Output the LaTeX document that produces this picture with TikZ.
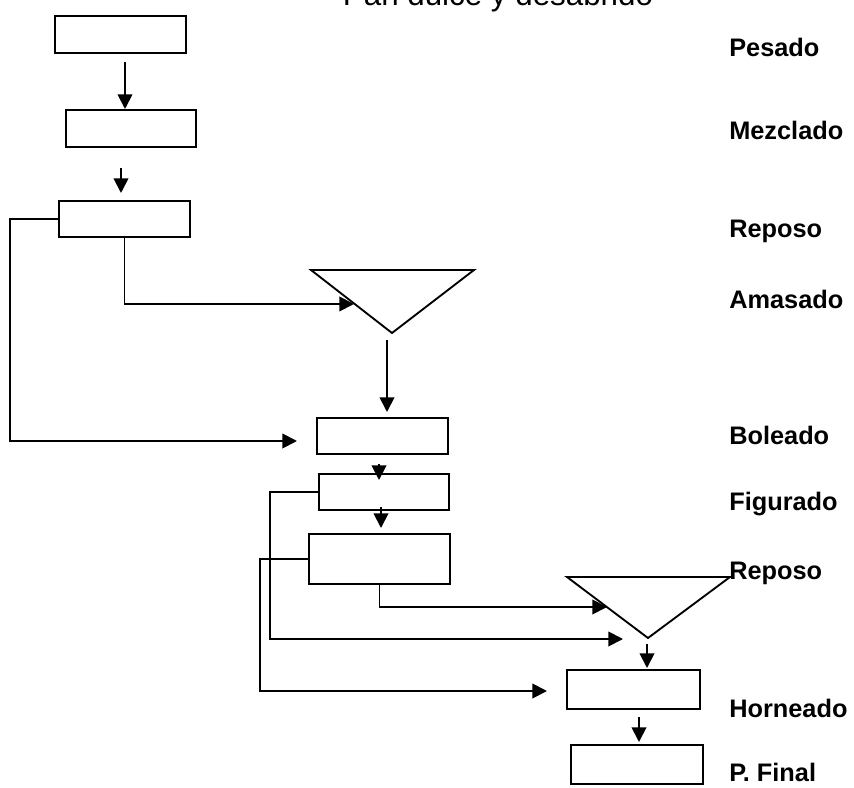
\documentclass[tikz,border=0pt]{standalone}
\usepackage{fontspec}
\setmainfont{Liberation Sans}
\usetikzlibrary{arrows.meta,calc}
\begin{document}
\begin{tikzpicture}[x=0.75pt,y=-0.75pt,
  box/.style={draw,rectangle,line width=1.4pt,inner sep=0pt},
  tri/.style={draw,line width=1.4pt,line join=miter},
  arr/.style={-{Triangle[length=11pt,width=11pt]},line width=1.4pt,line join=miter},
  lab/.style={anchor=base west,inner sep=0pt,font=\bfseries\fontsize{19}{23}\selectfont},
  ttl/.style={anchor=base,inner sep=0pt,font=\fontsize{23.5}{28}\selectfont}]
\useasboundingbox (0,0) rectangle (854,788);
% title
\node[ttl] (title) at (498,6) {Pan dulce y desabrido};
% boxes
\node[box,minimum width=98.25pt,minimum height=27.75pt] (b1) at (120.5,34.5) {};
\node[box,minimum width=97.5pt,minimum height=27.75pt] (b2) at (131,128.5) {};
\node[box,minimum width=98.25pt,minimum height=27pt] (b3) at (124.5,219) {};
\node[box,minimum width=98.25pt,minimum height=27pt] (b4) at (382.5,436) {};
\node[box,minimum width=97.5pt,minimum height=27pt] (b5) at (384,492) {};
\node[box,minimum width=105.75pt,minimum height=37.5pt] (b6) at (379.5,559) {};
\node[box,minimum width=99.75pt,minimum height=29.25pt] (b7) at (633.5,689.5) {};
\node[box,minimum width=99pt,minimum height=29.25pt] (b8) at (637,764.5) {};
% triangles
\coordinate (t1l) at (311,270);
\coordinate (t1r) at (474,270);
\coordinate (t1b) at (392,333);
\draw[tri] (t1l) -- (t1r) -- (t1b) -- cycle;
\coordinate (t2l) at (567,577);
\coordinate (t2r) at (730,577);
\coordinate (t2b) at (648,638);
\draw[tri] (t2l) -- (t2r) -- (t2b) -- cycle;
% vertical arrows
\coordinate (a1s) at (125,62);  \coordinate (a1e) at (125,109);
\coordinate (a2s) at (121,168); \coordinate (a2e) at (121,193);
\coordinate (a3s) at (387,340); \coordinate (a3e) at (387,412);
\coordinate (a4s) at (379,464); \coordinate (a4e) at (379,480);
\coordinate (a5s) at (381,507); \coordinate (a5e) at (381,528);
\coordinate (a6s) at (647,644); \coordinate (a6e) at (647,668);
\coordinate (a7s) at (639,717); \coordinate (a7e) at (639,742);
\draw[arr] (a1s) -- (a1e);
\draw[arr] (a2s) -- (a2e);
\draw[arr] (a3s) -- (a3e);
\draw[arr] (a4s) -- (a4e);
\draw[arr] (a5s) -- (a5e);
\draw[arr] (a6s) -- (a6e);
\draw[arr] (a7s) -- (a7e);
% elbow connectors
\coordinate (e1) at (354,304);
\coordinate (e2) at (297,441);
\coordinate (e3) at (623,639);
\coordinate (e4) at (547,691);
\coordinate (e5) at (607,607);
\draw[arr] (b3.south) |- (e1);
\draw[arr] (b3.west) -- ++(-48,0) |- (e2);
\draw[arr] (b5.west) -- ++(-48,0) |- (e3);
\draw[arr] (b6.west) -- ++(-48,0) |- (e4);
\draw[arr] (b6.south) |- (e5);
% labels
\node[lab] (l1) at (729,57) {Pesado};
\node[lab] (l2) at (729,140) {Mezclado};
\node[lab] (l3) at (729,238) {Reposo};
\node[lab] (l4) at (729,309) {Amasado};
\node[lab] (l5) at (729,444) {Boleado};
\node[lab] (l6) at (729,510) {Figurado};
\node[lab] (l7) at (729,579) {Reposo};
\node[lab] (l8) at (729,717) {Horneado};
\node[lab] (l9) at (729,781) {P. Final};
\end{tikzpicture}
\end{document}
